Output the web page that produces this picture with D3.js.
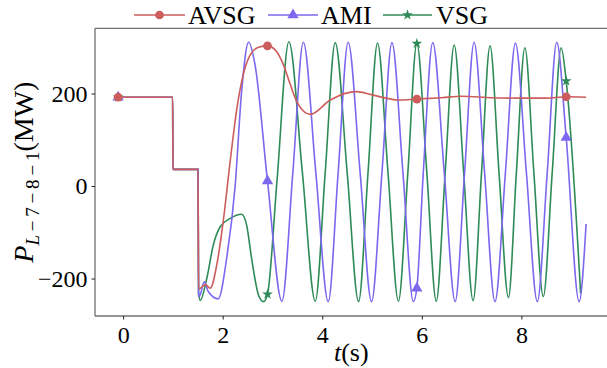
<!DOCTYPE html>
<html>
<head>
<meta charset="utf-8">
<script src="https://cdn.jsdelivr.net/npm/d3@7"></script>
<style>
  body { margin: 0; background: #fff; }
  svg { display: block; font-family: "Liberation Serif", "DejaVu Serif", serif; }
  svg text { font-family: "Liberation Serif", serif !important; }
</style>
</head>
<body>
<div id="chart"></div>
<script>
// data
var seriesNames = ["AVSG", "AMI", "VSG"];
var xTicks = [0, 2, 4, 6, 8];
var yTicks = [-200, 0, 200];
var markerTimes = [-0.1, 2.9, 5.9, 8.9];

var tAVSG = [-0.1, 0.995, 1.0, 1.505, 1.515, 1.55, 1.65, 1.75, 1.88, 2.01, 2.15, 2.28, 2.42, 2.55, 2.72, 2.9, 3.09, 3.22, 3.35, 3.49, 3.76, 4.16, 4.69, 5.0, 5.53, 5.9, 6.4, 6.8, 7.4, 8.0, 8.5, 8.9, 9.3];
var vAVSG = [192, 192, 36, 36, -222, -221, -213, -221, -171, -77, 53, 164, 244, 283, 300, 303, 290, 262, 222, 182, 155, 186, 204, 197, 186, 188, 191, 194, 191, 190, 190, 193, 192];

var tAMI = [-0.1, 0.995, 1.0, 1.505, 1.515, 1.53, 1.63, 1.71, 1.91, 2.08, 2.25, 2.38, 2.52, 2.65, 2.9, 3.19, 3.41, 3.62, 3.87, 4.12, 4.32, 4.52, 4.76, 4.99, 5.2, 5.4, 5.62, 5.83, 5.9, 6.03, 6.22, 6.45, 6.67, 6.86, 7.05, 7.26, 7.47, 7.68, 7.88, 8.1, 8.32, 8.52, 8.71, 8.9, 9.16, 9.3];
var vAMI = [192, 192, 36, 36, -232, -239, -207, -228, -244, -156, 0, 204, 311, 262, 11, -249, 30, 311, 30, -250, 30, 311, 30, -250, 30, 310, 30, -250, -221, 30, 310, 30, -250, 30, 311, 30, -250, 30, 309, 30, -250, 30, 311, 105, -250, -82];

var tVSG = [-0.1, 0.995, 1.0, 1.505, 1.515, 1.55, 1.68, 1.81, 1.95, 2.15, 2.38, 2.48, 2.58, 2.72, 2.82, 2.9, 3.09, 3.33, 3.6, 3.86, 4.06, 4.26, 4.5, 4.73, 4.92, 5.11, 5.32, 5.53, 5.72, 5.9, 6.1, 6.29, 6.47, 6.65, 6.84, 7.03, 7.2, 7.37, 7.55, 7.74, 7.9, 8.07, 8.25, 8.44, 8.62, 8.8, 8.9, 9.19];
var vVSG = [192, 192, 36, 36, -232, -247, -200, -128, -88, -70, -61, -84, -156, -236, -250, -234, 10, 312, 30, -249, 30, 310, 30, -250, 30, 309, 30, -249, 30, 308, 30, -249, 30, 305, 30, -248, 30, 303, 30, -241, 30, 299, 30, -239, 30, 299, 227, -232];

var colors = {AVSG: "#cd5c5c", AMI: "#7b68ee", VSG: "#2e8b57"};
var symbols = {AVSG: d3.symbolCircle, AMI: d3.symbolTriangle, VSG: d3.symbolStar};
var symSize = {AVSG: 60, AMI: 55, VSG: 36};

var W = 607, H = 368;
var margin = {top: 28.3, left: 95, bottom: 52, right: -2.5};
var width = W - margin.left - margin.right,
    height = H - margin.top - margin.bottom;

var svg = d3.select("#chart").append("svg")
    .attr("width", W).attr("height", H);

var x = d3.scaleLinear().domain([-0.565, 9.77]).range([0, width]);
var y = d3.scaleLinear().domain([-281, 341]).range([height, 0]);

var g = svg.append("g")
    .attr("transform", "translate(" + margin.left + "," + margin.top + ")");

function zip(t, v) { return t.map(function(d, i) { return {t: d, v: v[i]}; }); }
var data = {AVSG: zip(tAVSG, vAVSG), AMI: zip(tAMI, vAMI), VSG: zip(tVSG, vVSG)};

var line = d3.line()
    .x(function(d) { return x(d.t); })
    .y(function(d) { return y(d.v); })
    .curve(d3.curveMonotoneX);

// draw VSG first so AVSG sits on top
["VSG", "AMI", "AVSG"].forEach(function(name) {
  g.append("path")
    .datum(data[name])
    .attr("fill", "none")
    .attr("stroke", colors[name])
    .attr("stroke-width", 1.6)
    .attr("d", line);
});
["VSG", "AMI", "AVSG"].forEach(function(name) {
  var pts = data[name].filter(function(d) { return markerTimes.indexOf(d.t) >= 0; });
  g.selectAll(null).data(pts).enter().append("path")
    .attr("d", d3.symbol().type(symbols[name]).size(symSize[name]))
    .attr("transform", function(d) { return "translate(" + x(d.t) + "," + y(d.v) + ")"; })
    .attr("fill", colors[name]);
});

// spines
var spine = "#707070";
g.append("line").attr("x1", 0).attr("x2", 0).attr("y1", 0).attr("y2", height)
  .attr("stroke", spine).attr("stroke-width", 1.3);
g.append("line").attr("x1", 0).attr("x2", width).attr("y1", 0).attr("y2", 0)
  .attr("stroke", spine).attr("stroke-width", 1.3);
g.append("line").attr("x1", 0).attr("x2", width).attr("y1", height).attr("y2", height)
  .attr("stroke", spine).attr("stroke-width", 1.3);

// axes
var xAxis = g.append("g")
    .attr("transform", "translate(0," + height + ")")
    .call(d3.axisBottom(x).tickValues(xTicks).tickSize(3.5).tickPadding(6).tickFormat(d3.format("d")));
var yAxis = g.append("g")
    .call(d3.axisLeft(y).tickValues(yTicks).tickSize(3.5).tickPadding(4)
      .tickFormat(function(d) { return d < 0 ? "\u2212" + Math.abs(d) : d; }));
[xAxis, yAxis].forEach(function(a) {
  a.attr("font-family", null).attr("font-size", null);
  a.select(".domain").remove();
  a.selectAll("line").attr("stroke", "#222").attr("stroke-width", 1);
  a.selectAll("text").attr("fill", "#000").style("font-size", "24px");
});

// x label
var xl = svg.append("text")
    .attr("x", margin.left + width / 2 - 1)
    .attr("y", 361)
    .attr("text-anchor", "middle")
    .style("font-size", "26px");
xl.append("tspan").attr("font-style", "italic").text("t");
xl.append("tspan").text("(s)");

// y label
var yl = svg.append("text")
    .attr("transform", "translate(33," + (margin.top + height / 2) + ") rotate(-90)")
    .attr("text-anchor", "middle")
    .style("font-size", "28px");
yl.append("tspan").attr("font-style", "italic").text("P");
yl.append("tspan").attr("dy", 6).style("font-size", "19px")
  .html("<tspan font-style='italic'>L</tspan>\u2009\u2212\u20097\u2009\u2212\u20098\u2009\u2212\u20091");
yl.append("tspan").attr("dy", -6).text("(MW)");

// legend
var legendItems = [
  {name: "AVSG", x1: 134, x2: 185, tx: 188},
  {name: "AMI", x1: 268, x2: 318, tx: 321},
  {name: "VSG", x1: 383, x2: 432, tx: 436}
];
var ly = 15;
legendItems.forEach(function(it) {
  svg.append("line").attr("x1", it.x1).attr("x2", it.x2).attr("y1", ly).attr("y2", ly)
    .attr("stroke", colors[it.name]).attr("stroke-width", 1.6);
  svg.append("path")
    .attr("d", d3.symbol().type(symbols[it.name]).size(symSize[it.name]))
    .attr("transform", "translate(" + ((it.x1 + it.x2) / 2) + "," + ly + ")")
    .attr("fill", colors[it.name]);
  svg.append("text").attr("x", it.tx).attr("y", ly + 9)
    .style("font-size", "26px").text(it.name);
});
</script>
</body>
</html>
